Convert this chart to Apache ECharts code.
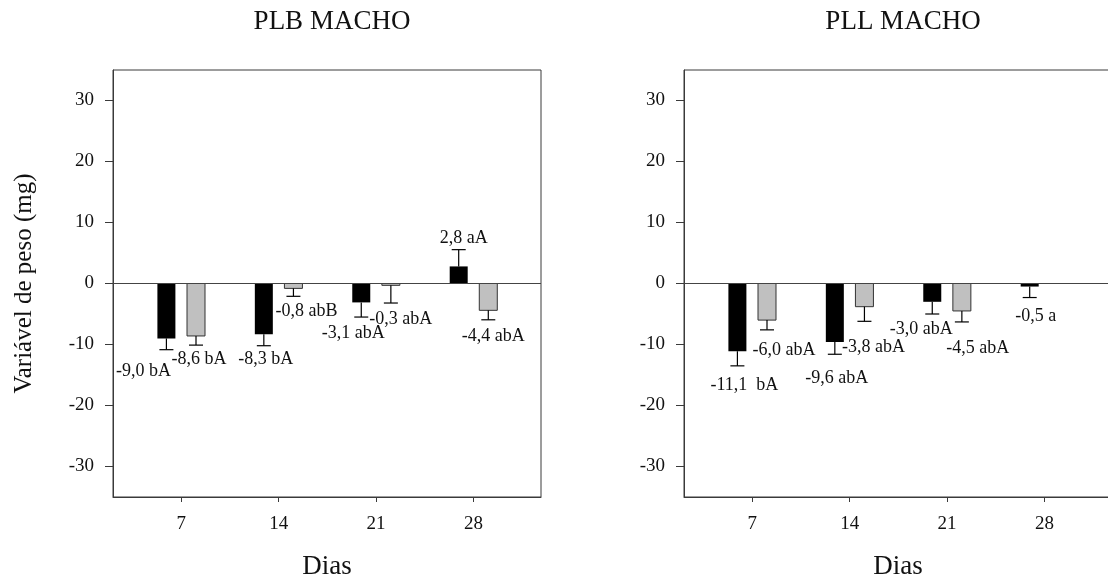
<!DOCTYPE html>
<html>
<head>
<meta charset="utf-8">
<script src="https://cdn.jsdelivr.net/npm/echarts@6/dist/echarts.min.js"></script>
<style>
  html, body { margin: 0; padding: 0; background: #fff; }
  #chart { width: 1108px; height: 580px; }
</style>
</head>
<body>
<div id="chart"></div>
<script>
// Days of the experiment (x positions of the bar groups)
const days = [7, 14, 21, 28];
const yTicks = [-30, -20, -10, 0, 10, 20, 30];

// PLB MACHO — weight change (mg) and error bar length
const plbBlack = [-9.0, -8.3, -3.1, 2.8];
const plbBlackErr = [1.85, 1.9, 2.4, 2.75];
const plbGray = [-8.6, -0.8, -0.3, -4.4];
const plbGrayErr = [1.5, 1.3, 2.9, 1.55];
const plbBlackLabels = ['-9,0 bA', '-8,3 bA', '-3,1 abA', '2,8 aA'];
const plbGrayLabels = ['-8,6 bA', '-0,8 abB', '-0,3 abA', '-4,4 abA'];

// PLL MACHO
const pllBlack = [-11.1, -9.6, -3.0, -0.5];
const pllBlackErr = [2.4, 2.0, 2.0, 1.8];
const pllGray = [-6.0, -3.8, -4.5, null];
const pllGrayErr = [1.6, 2.4, 1.8, null];
const pllBlackLabels = ['-11,1  bA', '-9,6 abA', '-3,0 abA', '-0,5 a'];
const pllGrayLabels = ['-6,0 abA', '-3,8 abA', '-4,5 abA', ''];

// Label placement relative to the bar tip, in pixels [dx, dy]
const plbBlackLabelPos = [[-23, 33], [2, 25], [-8, 31], [5, -28]];
const plbGrayLabelPos = [[3, 23], [13, 23], [10, 34], [5, 26]];
const pllBlackLabelPos = [[7, 34], [2, 36], [-11, 27], [6, 30]];
const pllGrayLabelPos = [[17, 30], [9, 41], [16, 37], [0, 0]];

const FONT = '"Liberation Serif", "Times New Roman", serif';
const BAR_SHIFT = 14.8;   // px from the day tick to the bar centre
const BAR_W = 18;         // bar width, px
const CAP_HALF = 7;       // half width of the error bar cap, px
const AXIS_COLOR = '#3a3a3a';

function buildData(values, errs) {
  const out = [];
  values.forEach((v, i) => {
    if (v === null || v === undefined) return;
    out.push([days[i], v, errs[i], i]);
  });
  return out;
}

function makeRender(labels, labelPos, side, fill, stroke) {
  return function (params, api) {
    const day = api.value(0);
    const v = api.value(1);
    const err = api.value(2);
    const idx = api.value(3);
    const base = api.coord([day, 0]);
    const tip = api.coord([day, v]);
    const dir = v >= 0 ? 1 : -1;
    const errEnd = api.coord([day, v + dir * err]);
    const cx = base[0] + side * BAR_SHIFT;
    const top = Math.min(base[1], tip[1]);
    const h = Math.abs(base[1] - tip[1]);
    const off = labelPos[idx];
    return {
      type: 'group',
      children: [
        {
          type: 'rect',
          shape: { x: cx - BAR_W / 2, y: top, width: BAR_W, height: Math.max(h, 1) },
          style: { fill: fill, stroke: stroke, lineWidth: stroke ? 1 : 0 }
        },
        {
          type: 'line',
          shape: { x1: cx, y1: tip[1], x2: cx, y2: errEnd[1] },
          style: { stroke: '#000', lineWidth: 1.2 }
        },
        {
          type: 'line',
          shape: { x1: cx - CAP_HALF, y1: errEnd[1], x2: cx + CAP_HALF, y2: errEnd[1] },
          style: { stroke: '#000', lineWidth: 1.2 }
        },
        {
          type: 'text',
          style: {
            text: labels[idx],
            x: cx + off[0],
            y: tip[1] + off[1],
            fill: '#111',
            font: '18px ' + FONT,
            align: 'center',
            verticalAlign: 'middle',
            textAlign: 'center',
            textVerticalAlign: 'middle'
          }
        }
      ]
    };
  };
}

function xAxis(gridIndex) {
  return {
    type: 'value', gridIndex: gridIndex, min: 2.1, max: 32.85,
    name: 'Dias', nameLocation: 'middle', nameGap: 56,
    nameTextStyle: { fontFamily: FONT, fontSize: 27, color: '#111' },
    axisLine: { show: true, onZero: false, lineStyle: { color: AXIS_COLOR, width: 1 } },
    axisTick: { show: true, customValues: days, length: 5, lineStyle: { color: AXIS_COLOR } },
    axisLabel: { customValues: days, margin: 18, fontFamily: FONT, fontSize: 19, color: '#111' },
    splitLine: { show: false }
  };
}

function yAxis(gridIndex, withName) {
  return {
    type: 'value', gridIndex: gridIndex, min: -35, max: 35,
    name: withName ? 'Variável de peso (mg)' : '', nameLocation: 'middle', nameGap: 76,
    nameTextStyle: { fontFamily: FONT, fontSize: 25, color: '#111' },
    axisLine: { show: true, onZero: false, lineStyle: { color: AXIS_COLOR, width: 1 } },
    axisTick: { show: true, customValues: yTicks, length: 8, lineStyle: { color: AXIS_COLOR } },
    axisLabel: { customValues: yTicks, margin: 19, fontFamily: FONT, fontSize: 19, color: '#111' },
    splitLine: { show: false }
  };
}

const zeroLine = {
  silent: true,
  symbol: ['none', 'none'],
  label: { show: false },
  lineStyle: { color: '#444', type: 'solid', width: 1 },
  data: [{ yAxis: 0 }]
};

function series(xi, values, errs, labels, pos, side, fill, stroke, withZero) {
  const s = {
    type: 'custom',
    xAxisIndex: xi, yAxisIndex: xi,
    renderItem: makeRender(labels, pos, side, fill, stroke),
    data: buildData(values, errs),
    clip: false
  };
  if (withZero) s.markLine = zeroLine;
  return s;
}

const chart = echarts.init(document.getElementById('chart'), null, { renderer: 'canvas' });
chart.setOption({
  animation: false,
  backgroundColor: '#fff',
  title: [
    { text: 'PLB MACHO', left: 327, top: 3, textAlign: 'center',
      textStyle: { fontFamily: FONT, fontSize: 27, fontWeight: 'normal', color: '#111' } },
    { text: 'PLL MACHO', left: 898, top: 3, textAlign: 'center',
      textStyle: { fontFamily: FONT, fontSize: 27, fontWeight: 'normal', color: '#111' } }
  ],
  grid: [
    { left: 113, top: 70, width: 428, height: 427, outerBoundsMode: 'none', containLabel: false,
      show: true, borderColor: AXIS_COLOR, borderWidth: 1, backgroundColor: 'transparent' },
    { left: 684, top: 70, width: 428, height: 427, outerBoundsMode: 'none', containLabel: false,
      show: true, borderColor: AXIS_COLOR, borderWidth: 1, backgroundColor: 'transparent' }
  ],
  xAxis: [xAxis(0), xAxis(1)],
  yAxis: [yAxis(0, true), yAxis(1, false)],
  series: [
    series(0, plbBlack, plbBlackErr, plbBlackLabels, plbBlackLabelPos, -1, '#000', null, true),
    series(0, plbGray, plbGrayErr, plbGrayLabels, plbGrayLabelPos, 1, '#c0c0c0', '#333', false),
    series(1, pllBlack, pllBlackErr, pllBlackLabels, pllBlackLabelPos, -1, '#000', null, true),
    series(1, pllGray, pllGrayErr, pllGrayLabels, pllGrayLabelPos, 1, '#c0c0c0', '#333', false)
  ]
});
</script>
</body>
</html>
